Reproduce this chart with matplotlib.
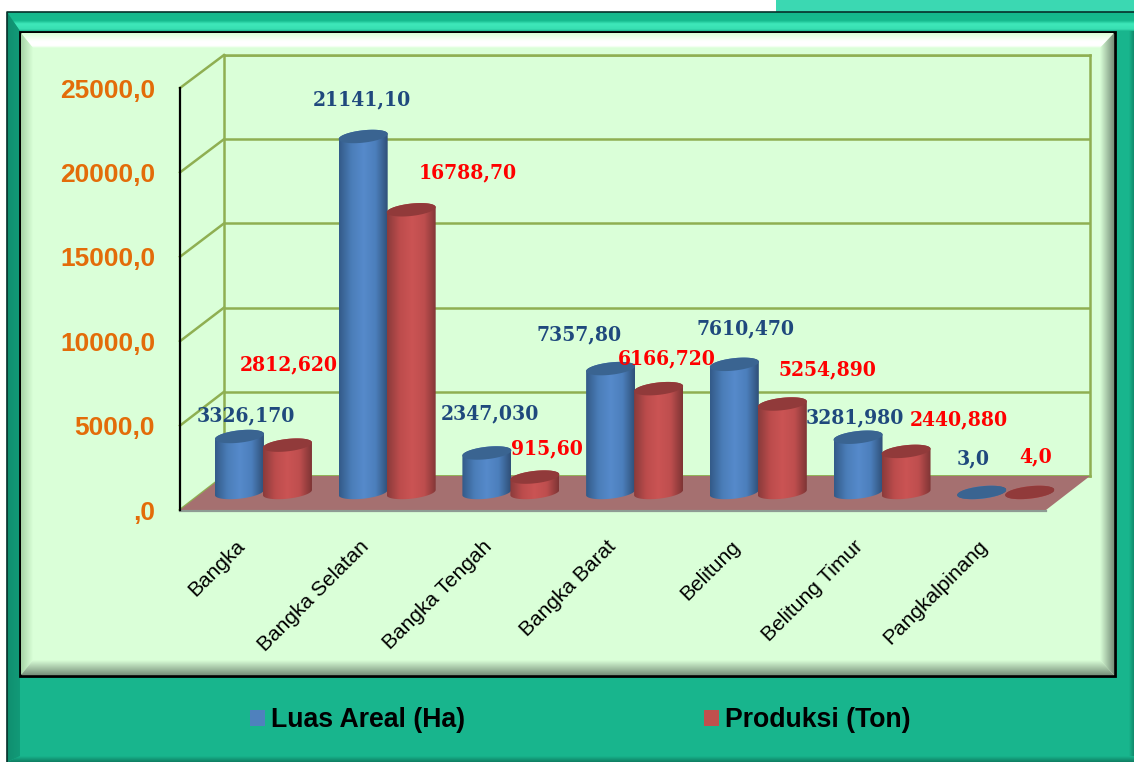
import numpy as np
import matplotlib
matplotlib.use("Agg")
import matplotlib.pyplot as plt
from matplotlib.patches import Polygon, Rectangle, Patch
from matplotlib.colors import LinearSegmentedColormap

# ---------- data ----------
categories = ["Bangka", "Bangka Selatan", "Bangka Tengah", "Bangka Barat",
              "Belitung", "Belitung Timur", "Pangkalpinang"]
luas_areal = [3326.17, 21141.10, 2347.03, 7357.80, 7610.47, 3281.98, 3.0]
produksi = [2812.62, 16788.70, 915.60, 6166.72, 5254.89, 2440.88, 4.0]
luas_labels = ["3326,170", "21141,10", "2347,030", "7357,80", "7610,470", "3281,980", "3,0"]
produksi_labels = ["2812,620", "16788,70", "915,60", "6166,720", "5254,890", "2440,880", "4,0"]
y_ticks = [0, 5000, 10000, 15000, 20000, 25000]
y_tick_labels = [",0", "5000,0", "10000,0", "15000,0", "20000,0", "25000,0"]
series_names = ["Luas Areal (Ha)", "Produksi (Ton)"]

# ---------- layout (styles and pixel positions) ----------
W, H = 1134, 762
YMAX = 25000
YFLOOR = -1500    # room under the zero line for the round base of each cylinder
luas_offsets = [(6, 21.5), (-1, 37.5), (3, 40), (-32, 34.6), (11, 36.4), (-3.5, 20.2), (-9, 34.4)]
produksi_offsets = [(1, 81), (57, 37), (12, 29), (8, 30.6), (45, 35), (52.5, 32.4), (6, 36.4)]

plt.rcParams["font.family"] = ["Liberation Sans", "DejaVu Sans"]
fig = plt.figure(figsize=(W / 100, H / 100), dpi=100, facecolor="white")


def px_axes(x0, ytop, x1, ybot, **kw):
    return fig.add_axes([x0 / W, 1 - ybot / H, (x1 - x0) / W, (ybot - ytop) / H], **kw)


# ---------- frame (pixel-coordinate background) ----------
bg = fig.add_axes([0, 0, 1, 1], zorder=0)
bg.set_xlim(0, W)
bg.set_ylim(H, 0)
bg.axis("off")


def grad(ax, pts, colors, horizontal, zorder=1):
    """Fill polygon pts with a linear gradient over its bounding box."""
    pts = np.asarray(pts, float)
    x0, x1, y0, y1 = pts[:, 0].min(), pts[:, 0].max(), pts[:, 1].min(), pts[:, 1].max()
    cmap = LinearSegmentedColormap.from_list("g", colors)
    g = np.linspace(0, 1, 256)
    arr = g[None, :] if horizontal else g[:, None]
    im = ax.imshow(arr, cmap=cmap, vmin=0, vmax=1, extent=(x0, x1, y1, y0),
                   aspect="auto", zorder=zorder, interpolation="bilinear")
    poly = Polygon(pts, closed=True, transform=ax.transData, fc="none", ec="none")
    ax.add_patch(poly)
    im.set_clip_path(poly)


TEAL = "#18B58D"
bg.add_patch(Rectangle((776, 0), W - 776, 12, fc="#3BD8B2", ec="none", zorder=1))
bg.add_patch(Rectangle((7, 12), W - 7, H - 12, fc=TEAL, ec="none", zorder=1))
grad(bg, [(7, 12), (W, 12), (W, 31), (20, 31)],
     [(0, "#14B88C"), (0.45, "#16BA8E"), (0.62, "#3EE8BA"), (0.9, "#38DFB2"), (1, "#18B58D")], False, 2)
grad(bg, [(W - 5, 31), (W, 31), (W, H), (W - 5, H)],
     [(0, TEAL), (1, "#128A6C")], True, 2)
grad(bg, [(7, H), (W, H), (W, H - 6), (20, H - 6)],
     [(0, TEAL), (1, "#0F7D62")], False, 2)
grad(bg, [(7, 12), (20, 31), (20, H - 6), (7, H)],
     [(0, "#0C7A5E"), (0.12, "#109070"), (1, "#129A78")], True, 3)
bg.plot([7, 7, W], [H, 11.5, 11.5], color="#06302A", lw=1.2, zorder=3)

PANEL = "#DAFFD8"
bg.add_patch(Rectangle((20, 32), 1095, 644, fc=PANEL, ec="black", lw=2, zorder=4))
grad(bg, [(21, 33), (1114, 33), (1100, 48), (33, 48)],
     [(0, "#DAFFD8"), (0.55, "#FFFFFF"), (0.85, "#FFFFFF"), (1, "#DAFFD8")], False, 5)
grad(bg, [(21, 33), (33, 48), (33, 660), (21, 675)],
     [(0, "#A6D4A6"), (1, "#DAFFD8")], True, 5)
grad(bg, [(1114, 33), (1114, 675), (1100, 660), (1100, 48)],
     [(0, "#DAFFD8"), (1, "#77907A")], True, 5)
grad(bg, [(21, 675), (1114, 675), (1100, 660), (33, 660)],
     [(0, "#DAFFD8"), (1, "#77907A")], False, 5)
bg.set_xlim(0, W)
bg.set_ylim(H, 0)

GRID = "#8FAF52"
# ---------- back wall ----------
wall = px_axes(224, 55, 1090, 476, zorder=1, facecolor="none")
wall.set_ylim(0, YMAX)
wall.set_yticks(y_ticks)
wall.set_xticks([])
wall.tick_params(left=False, labelleft=False)
wall.grid(axis="y", color=GRID, lw=1.8)
for s in wall.spines.values():
    s.set_color(GRID)
    s.set_linewidth(1.8)

# ---------- front axis: value labels, category labels, floor, depth lines ----------
front = px_axes(180, 88, 1046, 510, zorder=2, facecolor="none")
front.set_xlim(-0.5, len(categories) - 0.5)
front.set_ylim(0, YMAX)
front.set_yticks(y_ticks)
front.set_yticklabels(y_tick_labels, fontsize=19, fontweight="bold", color="#E36C09")
front.set_xticks(range(len(categories)))
front.set_xticklabels(categories, fontsize=15, rotation=45, ha="right", va="center",
                      rotation_mode="anchor", color="black")
front.tick_params(axis="y", length=0, pad=18)
front.tick_params(axis="x", length=0, pad=24)
for k in ("top", "right", "bottom"):
    front.spines[k].set_visible(False)
front.spines["left"].set_color("black")
front.spines["left"].set_linewidth(1.6)

# depth lines and floor live in a pixel overlay
depth = fig.add_axes([0, 0, 1, 1], zorder=1.5, facecolor="none")
depth.set_xlim(0, W)
depth.set_ylim(H, 0)
depth.axis("off")
for v in y_ticks:
    depth.plot([180, 224], [510 - 422 * v / YMAX, 476 - 421 * v / YMAX], color=GRID, lw=1.8, zorder=1)
depth.add_patch(Polygon([(180, 510), (224, 476), (1090, 476), (1046, 510)],
                        fc="#A57070", ec="none", zorder=2))
depth.plot([180, 1046], [510.5, 510.5], color="#8E9C94", lw=1.6, zorder=3)

# ---------- cylinders ----------
sx = 866 / 7      # px per category
sy = 421 / YMAX   # px per value
bars = px_axes(201.6, 71.5, 1067.6, 492.5 - YFLOOR * sy, zorder=3, facecolor="none")
bars.axis("off")
XLIM = (-0.5, len(categories) - 0.5)
RX, RY, TILT = 24.5 / sx, 6.2 / sy, 2.6 / sy
SHIFT = 24 / sx
T = np.linspace(0, 2 * np.pi, 120)


def ring(xc, v):
    return np.column_stack([xc + RX * np.cos(T), v + RY * np.sin(T) + TILT * np.cos(T)])


def cylinder(xc, v, side, top):
    r0 = ring(xc, 0)
    lower = r0[T >= np.pi]      # front arc of base, left to right
    r1 = ring(xc, v)
    upper = r1[T <= np.pi]      # back arc of top, right to left
    body = np.vstack([lower, upper])
    cmap = LinearSegmentedColormap.from_list("c", side)
    vtop = v + RY + TILT + 1
    im = bars.imshow(np.linspace(0, 1, 128)[None, :], cmap=cmap, vmin=0, vmax=1,
                     extent=(xc - RX, xc + RX, -RY - TILT - 1, vtop),
                     aspect="auto", zorder=2, interpolation="bilinear")
    poly = Polygon(body, closed=True, fc="none", ec="none", transform=bars.transData)
    bars.add_patch(poly)
    im.set_clip_path(poly)
    bars.add_patch(Polygon(r1, closed=True, fc=top, ec="none", zorder=3))


BLUE_SIDE = [(0, "#335A88"), (0.25, "#4A7DB8"), (0.5, "#568ACB"), (0.75, "#4C7FBC"), (1, "#2F5078")]
RED_SIDE = [(0, "#8A3B3B"), (0.25, "#BC4C4C"), (0.5, "#CB5454"), (0.75, "#BE4E4E"), (1, "#7E3535")]
BLUE_TOP, RED_TOP = "#3A6491", "#913A3A"

LABEL_FONT = dict(family=["DejaVu Serif"], stretch="condensed", fontweight="bold", fontsize=15,
                  ha="center", va="center", textcoords="offset pixels",
                  annotation_clip=False, zorder=6)
for i in range(len(categories)):
    cylinder(i - SHIFT, luas_areal[i], BLUE_SIDE, BLUE_TOP)
    cylinder(i + SHIFT, produksi[i], RED_SIDE, RED_TOP)
bars.set_xlim(*XLIM)
bars.set_ylim(YFLOOR, YMAX)
for i in range(len(categories)):
    bars.annotate(luas_labels[i], (i - SHIFT, luas_areal[i]), xytext=luas_offsets[i],
                  color="#1F497D", **LABEL_FONT)
    bars.annotate(produksi_labels[i], (i + SHIFT, produksi[i]), xytext=produksi_offsets[i],
                  color="#FF0000", **LABEL_FONT)

# ---------- legend ----------
handles = [Patch(fc="#4F81BD", ec="none"), Patch(fc="#C0504D", ec="none")]
fig.legend(handles, series_names, ncol=2, loc="center", bbox_to_anchor=(580.5 / W, 1 - 720 / H),
           frameon=False, prop=dict(weight="bold", size=19.2), handlelength=0.55, handleheight=0.55,
           handletextpad=0.23, columnspacing=8.95, labelcolor="black")

fig.savefig("out.png", dpi=100)
